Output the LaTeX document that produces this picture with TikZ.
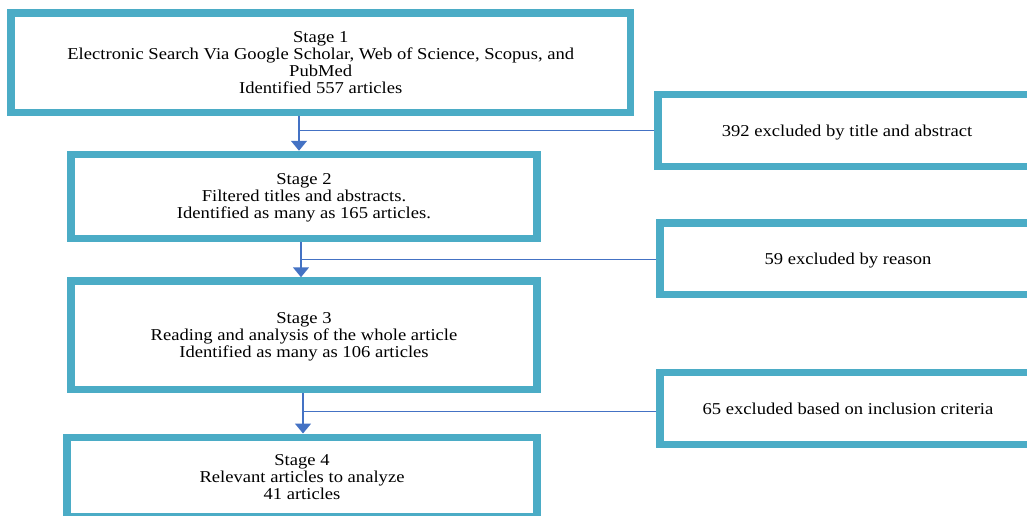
\documentclass[tikz,border=0pt]{standalone}
\usepackage{fontspec}
\setmainfont{Liberation Serif}[FakeStretch=1.12]
\usetikzlibrary{arrows.meta}
\definecolor{boxcol}{RGB}{75,172,198}
\definecolor{arrcol}{RGB}{68,114,196}
\begin{document}
\begin{tikzpicture}[x=1pt,y=-1pt,
  stagebox/.style={draw=boxcol, line width=7.5pt, rectangle, align=center, inner sep=0pt,
    text depth=0pt, font=\fontsize{16.6}{17}\selectfont},
  arr/.style={draw=arrcol, line width=1.5pt, -{Triangle[width=16pt,length=10pt]}},
  conn/.style={draw=arrcol, line width=1pt}]
\useasboundingbox (0,0) rectangle (1027,516);
\clip (0,0) rectangle (1027,516);
\fill[white] (0,0) rectangle (1027,516);

\node[stagebox, minimum width=619.5pt, minimum height=99.5pt] (s1) at (320.75,62.75)
  {Stage 1\\Electronic Search Via Google Scholar, Web of Science, Scopus, and\\PubMed\\Identified 557 articles};
\node[stagebox, minimum width=466pt, minimum height=84pt] (s2) at (304,196.5)
  {Stage 2\\Filtered titles and abstracts.\\Identified as many as 165 articles.};
\node[stagebox, minimum width=466pt, minimum height=108.5pt] (s3) at (304,335.25)
  {Stage 3\\Reading and analysis of the whole article\\Identified as many as 106 articles};
\node[stagebox, minimum width=470pt, minimum height=79pt] (s4) at (302,476.75)
  {Stage 4\\Relevant articles to analyze\\41 articles};

\node[stagebox, minimum width=378pt, minimum height=72pt] (r1) at (847,130.5)
  {392 excluded by title and abstract};
\node[stagebox, minimum width=376pt, minimum height=71.5pt] (r2) at (848,258.75)
  {59 excluded by reason};
\node[stagebox, minimum width=376pt, minimum height=72pt] (r3) at (848,408.5)
  {65 excluded based on inclusion criteria};

\coordinate (j1) at (299,130);
\coordinate (j2) at (301,259);
\coordinate (j3) at (303,411);

\draw[arr] (j1 |- s1.south) -- (j1 |- s2.north);
\draw[conn] (j1) -- (j1 -| r1.west);
\draw[arr] (j2 |- s2.south) -- (j2 |- s3.north);
\draw[conn] (j2) -- (j2 -| r2.west);
\draw[arr] (j3 |- s3.south) -- (j3 |- s4.north);
\draw[conn] (j3) -- (j3 -| r3.west);
\end{tikzpicture}
\end{document}
